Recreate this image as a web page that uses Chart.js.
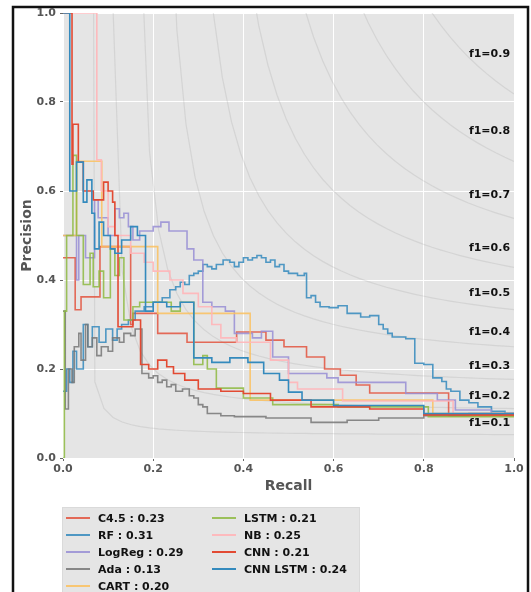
<!DOCTYPE html>
<html lang="en">
<head>
<meta charset="UTF-8">
<script src="https://cdn.jsdelivr.net/npm/chart.js"></script>
<title>Precision-Recall</title>
<style>
  body { margin: 0; background: #fff; }
</style>
</head>
<body>
<canvas id="prChart" width="531" height="592"></canvas>
<script>
// Models and average precision shown in the legend
const models = ['C4.5', 'RF', 'LogReg', 'Ada', 'CART', 'LSTM', 'NB', 'CNN', 'CNN LSTM'];
const avgPrecision = [0.23, 0.31, 0.29, 0.13, 0.20, 0.21, 0.25, 0.21, 0.24];

// Step curves (recall, precision)
const c45Recall = [0, 0.027, 0.04, 0.082, 0.15, 0.155, 0.17, 0.21, 0.275, 0.385, 0.45, 0.49, 0.54, 0.58, 0.615, 0.65, 0.68, 0.855, 1.0];
const c45Precision = [0.45, 0.333, 0.362, 0.475, 0.30, 0.325, 0.325, 0.28, 0.26, 0.283, 0.265, 0.25, 0.227, 0.20, 0.186, 0.164, 0.146, 0.095, 0.095];

const rfRecall = [0, 0.008, 0.015, 0.022, 0.03, 0.045, 0.055, 0.065, 0.08, 0.095, 0.11, 0.12, 0.13, 0.145, 0.16, 0.18, 0.2, 0.22, 0.237, 0.25, 0.26, 0.27, 0.28, 0.29, 0.3, 0.31, 0.32, 0.33, 0.34, 0.355, 0.37, 0.38, 0.39, 0.4, 0.41, 0.42, 0.43, 0.44, 0.45, 0.46, 0.47, 0.48, 0.49, 0.5, 0.52, 0.535, 0.54, 0.55, 0.56, 0.57, 0.59, 0.61, 0.63, 0.66, 0.68, 0.7, 0.71, 0.72, 0.73, 0.76, 0.78, 0.8, 0.82, 0.84, 0.85, 0.86, 0.88, 0.9, 0.92, 0.95, 0.98, 1.0];
const rfPrecision = [0.15, 0.2, 0.17, 0.24, 0.2, 0.3, 0.25, 0.295, 0.26, 0.29, 0.265, 0.29, 0.30, 0.31, 0.33, 0.34, 0.35, 0.36, 0.378, 0.385, 0.395, 0.39, 0.41, 0.415, 0.42, 0.435, 0.43, 0.425, 0.435, 0.445, 0.44, 0.43, 0.44, 0.45, 0.445, 0.45, 0.455, 0.45, 0.44, 0.445, 0.43, 0.435, 0.42, 0.415, 0.41, 0.415, 0.36, 0.365, 0.35, 0.34, 0.338, 0.342, 0.325, 0.317, 0.32, 0.3, 0.29, 0.28, 0.272, 0.268, 0.213, 0.21, 0.18, 0.172, 0.155, 0.15, 0.13, 0.124, 0.115, 0.105, 0.1, 0.1];

const logRegRecall = [0, 0.03, 0.035, 0.05, 0.07, 0.078, 0.1, 0.115, 0.125, 0.135, 0.145, 0.155, 0.17, 0.2, 0.217, 0.235, 0.26, 0.275, 0.29, 0.31, 0.33, 0.36, 0.38, 0.42, 0.44, 0.465, 0.5, 0.585, 0.61, 0.76, 0.83, 0.87, 0.95, 1.0];
const logRegPrecision = [0.5, 0.4, 0.5, 0.45, 0.58, 0.54, 0.5, 0.56, 0.54, 0.55, 0.52, 0.49, 0.51, 0.52, 0.53, 0.51, 0.51, 0.47, 0.445, 0.35, 0.34, 0.33, 0.28, 0.27, 0.285, 0.227, 0.19, 0.18, 0.17, 0.145, 0.13, 0.108, 0.1, 0.1];

const adaRecall = [0, 0.005, 0.012, 0.02, 0.025, 0.035, 0.04, 0.05, 0.055, 0.065, 0.075, 0.085, 0.1, 0.11, 0.125, 0.135, 0.15, 0.16, 0.175, 0.19, 0.2, 0.21, 0.22, 0.23, 0.24, 0.25, 0.265, 0.28, 0.29, 0.3, 0.31, 0.32, 0.35, 0.38, 0.45, 0.55, 0.63, 0.7, 0.8, 0.9, 1.0];
const adaPrecision = [0.33, 0.11, 0.2, 0.17, 0.25, 0.28, 0.22, 0.3, 0.25, 0.27, 0.23, 0.25, 0.24, 0.27, 0.26, 0.28, 0.275, 0.29, 0.19, 0.18, 0.185, 0.17, 0.175, 0.16, 0.165, 0.15, 0.155, 0.14, 0.135, 0.12, 0.115, 0.1, 0.095, 0.093, 0.09, 0.08, 0.085, 0.09, 0.095, 0.1, 0.1];

const cartRecall = [0, 0.03, 0.086, 0.21, 0.415, 0.82, 1.0];
const cartPrecision = [0.5, 0.667, 0.475, 0.325, 0.13, 0.1, 0.1];

const lstmRecall = [0, 0.003, 0.008, 0.022, 0.03, 0.045, 0.06, 0.067, 0.08, 0.09, 0.105, 0.115, 0.125, 0.135, 0.155, 0.17, 0.19, 0.24, 0.26, 0.29, 0.31, 0.32, 0.34, 0.40, 0.465, 0.61, 0.81, 1.0];
const lstmPrecision = [0.0, 0.33, 0.5, 0.68, 0.5, 0.39, 0.46, 0.385, 0.42, 0.36, 0.47, 0.41, 0.45, 0.31, 0.34, 0.35, 0.35, 0.33, 0.35, 0.21, 0.23, 0.2, 0.157, 0.135, 0.12, 0.115, 0.093, 0.093];

const nbRecall = [0, 0.075, 0.085, 0.1, 0.115, 0.15, 0.18, 0.2, 0.237, 0.266, 0.3, 0.33, 0.35, 0.385, 0.46, 0.5, 0.52, 0.62, 0.865, 1.0];
const nbPrecision = [1.0, 0.67, 0.6, 0.52, 0.5, 0.46, 0.44, 0.42, 0.40, 0.37, 0.34, 0.3, 0.27, 0.26, 0.22, 0.17, 0.155, 0.128, 0.1, 0.1];

const cnnRecall = [0, 0.02, 0.022, 0.034, 0.045, 0.067, 0.09, 0.1, 0.11, 0.115, 0.122, 0.155, 0.172, 0.19, 0.21, 0.23, 0.245, 0.27, 0.3, 0.35, 0.4, 0.46, 0.55, 0.68, 0.8, 1.0];
const cnnPrecision = [1.0, 0.66, 0.75, 0.665, 0.6, 0.58, 0.62, 0.6, 0.575, 0.5, 0.295, 0.31, 0.21, 0.2, 0.22, 0.205, 0.19, 0.175, 0.155, 0.15, 0.145, 0.13, 0.115, 0.11, 0.097, 0.097];

const cnnLstmRecall = [0, 0.015, 0.03, 0.045, 0.053, 0.064, 0.07, 0.08, 0.09, 0.105, 0.115, 0.13, 0.15, 0.165, 0.183, 0.2, 0.23, 0.26, 0.29, 0.33, 0.37, 0.41, 0.445, 0.48, 0.5, 0.53, 0.6, 0.8, 1.0];
const cnnLstmPrecision = [1.0, 0.6, 0.665, 0.575, 0.625, 0.55, 0.47, 0.53, 0.5, 0.47, 0.46, 0.49, 0.52, 0.5, 0.33, 0.35, 0.34, 0.35, 0.225, 0.215, 0.225, 0.215, 0.19, 0.175, 0.148, 0.13, 0.118, 0.1, 0.1];

// iso-F1 levels and axis ticks
const f1Levels = [0.1, 0.2, 0.3, 0.4, 0.5, 0.6, 0.7, 0.8, 0.9];
const axisTicks = [0.0, 0.2, 0.4, 0.6, 0.8, 1.0];

const allRecall = [c45Recall, rfRecall, logRegRecall, adaRecall, cartRecall, lstmRecall, nbRecall, cnnRecall, cnnLstmRecall];
const allPrecision = [c45Precision, rfPrecision, logRegPrecision, adaPrecision, cartPrecision, lstmPrecision, nbPrecision, cnnPrecision, cnnLstmPrecision];

// ggplot colour cycle
const lineColors = [
  'rgba(226,74,51,0.8)', 'rgba(52,138,189,0.85)', 'rgba(152,142,213,0.85)',
  'rgba(119,119,119,0.85)', 'rgba(251,193,94,0.85)', 'rgba(142,186,66,0.85)',
  'rgba(255,181,184,0.9)', '#E24A33', '#348ABD'
];

const FONT = "'DejaVu Sans', sans-serif";

// iso-F1 curve over linspace(0.01, 1, 50)
function isoCurve(f) {
  const pts = [];
  for (let i = 0; i < 50; i++) {
    const r = 0.01 + i * 0.99 / 49;
    const p = f * r / (2 * r - f);
    if (p >= 0) pts.push({ x: r, y: p });
  }
  return pts;
}

const datasets = [];
models.forEach((name, i) => {
  datasets.push({
    label: name + ' : ' + avgPrecision[i].toFixed(2),
    data: allRecall[i].map((r, k) => ({ x: r, y: allPrecision[i][k] })),
    borderColor: lineColors[i],
    borderWidth: 1.6,
    stepped: true,
    pointRadius: 0,
    fill: false,
    order: 20 - i,
    isModel: true
  });
});
f1Levels.forEach(f => {
  datasets.push({
    label: 'f1=' + f.toFixed(1),
    data: isoCurve(f),
    borderColor: 'rgba(128,128,128,0.17)',
    borderWidth: 1.2,
    pointRadius: 0,
    fill: false,
    order: 100,
    f1: f
  });
});

// background, frame, iso labels and two-column legend
const decorations = {
  id: 'decorations',
  beforeDraw(chart) {
    const { ctx, chartArea: a } = chart;
    ctx.save();
    ctx.fillStyle = '#fff';
    ctx.fillRect(0, 0, chart.width, chart.height);
    ctx.fillStyle = '#e5e5e5';
    ctx.fillRect(a.left, a.top, a.right - a.left, a.bottom - a.top);
    ctx.strokeStyle = '#111';
    ctx.lineWidth = 2.5;
    ctx.beginPath();
    ctx.moveTo(13, chart.height + 5);
    ctx.lineTo(13, 7);
    ctx.lineTo(528, 7);
    ctx.lineTo(528, chart.height + 5);
    ctx.stroke();
    ctx.restore();
  },
  afterDraw(chart) {
    const { ctx, scales } = chart;
    ctx.save();
    // f1 labels at recall 0.9
    ctx.font = 'bold 11px ' + FONT;
    ctx.fillStyle = '#111';
    ctx.textBaseline = 'alphabetic';
    ctx.textAlign = 'left';
    const r45 = 0.01 + 45 * 0.99 / 49;
    chart.data.datasets.filter(d => d.f1).forEach(d => {
      const p = d.f1 * r45 / (2 * r45 - d.f1);
      ctx.fillText(d.label, scales.x.getPixelForValue(0.9), scales.y.getPixelForValue(p + 0.02));
    });

    // legend box
    ctx.fillStyle = '#e5e5e5';
    ctx.fillRect(62, 507, 297, 100);
    ctx.strokeStyle = '#dadada';
    ctx.lineWidth = 1;
    ctx.strokeRect(62.5, 507.5, 297, 100);
    ctx.font = 'bold 11px ' + FONT;
    ctx.textBaseline = 'middle';
    chart.data.datasets.filter(d => d.isModel).forEach((d, i) => {
      const col = i < 5 ? 0 : 1;
      const row = i < 5 ? i : i - 5;
      const x0 = col === 0 ? 66 : 212;
      const y = 518 + row * 17;
      ctx.strokeStyle = d.borderColor;
      ctx.lineWidth = 2;
      ctx.beginPath();
      ctx.moveTo(x0, y);
      ctx.lineTo(x0 + 24, y);
      ctx.stroke();
      ctx.fillStyle = '#111';
      ctx.fillText(d.label, x0 + 32, y + 1);
    });
    ctx.restore();
  }
};

const tickFont = { family: FONT, size: 11, weight: 'bold' };
const titleFont = { family: FONT, size: 14, weight: 'bold' };

function axis(title, isX) {
  return {
    type: 'linear',
    min: 0,
    max: 1,
    afterBuildTicks: scale => { scale.ticks = axisTicks.map(v => ({ value: v })); },
    afterFit: scale => {
      if (isX) scale.height = 41; else scale.width = 48;
    },
    ticks: {
      font: tickFont,
      color: '#555',
      padding: isX ? 2 : 4,
      maxRotation: 0,
      callback: v => Number(v).toFixed(1)
    },
    grid: { color: '#ffffff', lineWidth: 1, tickColor: '#666', tickLength: 3 },
    border: { display: false },
    title: { display: true, text: title, font: titleFont, color: '#555', padding: { top: 4, bottom: 4 } }
  };
}

const ctx = document.getElementById('prChart').getContext('2d');
const prChart = new Chart(ctx, {
  type: 'line',
  data: { datasets: datasets },
  options: {
    responsive: false,
    animation: false,
    layout: { padding: { left: 15, right: 17, top: 13, bottom: 93 } },
    scales: { x: axis('Recall', true), y: axis('Precision', false) },
    plugins: { legend: { display: false }, tooltip: { enabled: false } },
    elements: { line: { tension: 0 } }
  },
  plugins: [decorations]
});
</script>
</body>
</html>
